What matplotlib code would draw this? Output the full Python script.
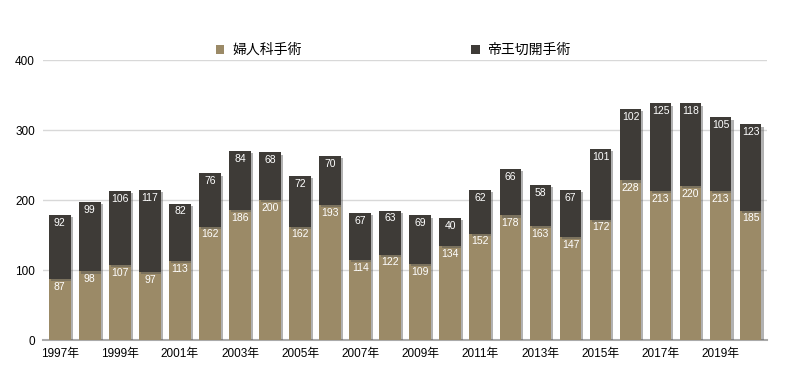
import matplotlib
matplotlib.use("Agg")
import matplotlib.pyplot as plt
import matplotlib.patheffects as pe
from matplotlib.patches import Patch
import numpy as np

plt.rcParams["font.family"] = ["Liberation Sans", "Noto Sans CJK JP", "DejaVu Sans"]

years = list(range(1997, 2021))
gyn = [87, 98, 107, 97, 113, 162, 186, 200, 162, 193, 114, 122,
       109, 134, 152, 178, 163, 147, 172, 228, 213, 220, 213, 185]
csec = [92, 99, 106, 117, 82, 76, 84, 68, 72, 70, 67, 63,
        69, 40, 62, 66, 58, 67, 101, 102, 125, 118, 105, 123]
tick_labels = [f"{y}年" if (y - 1997) % 2 == 0 else "" for y in years]

TAN = "#9b8a67"
DARK = "#3e3b37"

fig = plt.figure(figsize=(8, 3.8), dpi=100)
ax = fig.add_axes([0.054, 0.105, 0.905, 0.737])

x = np.arange(len(years))
shadow = [pe.SimplePatchShadow(offset=(1.5, -1.5), shadow_rgbFace="#555555", alpha=0.45),
          pe.Normal()]
ax.bar(x, gyn, width=0.72, color=TAN, zorder=3, path_effects=shadow)
ax.bar(x, csec, bottom=gyn, width=0.72, color=DARK, zorder=3, path_effects=shadow)

for xi, g, c in zip(x, gyn, csec):
    ax.text(xi, g - 4, str(g), ha="center", va="top", color="white",
            fontsize=7.5, zorder=4)
    ax.text(xi, g + c - 4, str(c), ha="center", va="top", color="white",
            fontsize=7.5, zorder=4)

ax.set_xlim(-0.55, len(years) - 0.45)
ax.set_ylim(0, 400)
ax.set_yticks([0, 100, 200, 300, 400])
ax.set_xticks(x)
ax.set_xticklabels(tick_labels, fontsize=8.5)
ax.tick_params(axis="y", labelsize=8.5, length=0, pad=6)
ax.tick_params(axis="x", length=0, pad=6)
ax.grid(axis="y", color="#d8d8d8", linewidth=1, zorder=0)
for side in ["top", "right", "left"]:
    ax.spines[side].set_visible(False)
ax.spines["bottom"].set_color("#aaaaaa")
ax.spines["bottom"].set_linewidth(1.5)

handles = [Patch(facecolor=TAN, label="婦人科手術"),
           Patch(facecolor=DARK, label="帝王切開手術")]
fig.legend(handles=handles, loc="center", bbox_to_anchor=(0.492, 0.868), ncol=2,
           frameon=False, fontsize=10, handlelength=0.6, handleheight=0.6,
           handletextpad=0.6, columnspacing=12.2)

fig.savefig("out.png", dpi=100)
